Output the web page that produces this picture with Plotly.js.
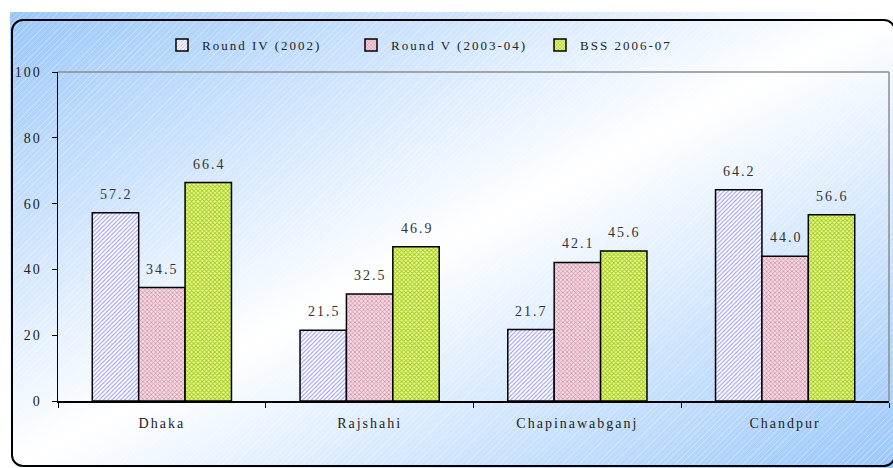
<!DOCTYPE html>
<html>
<head>
<meta charset="utf-8">
<script src="https://cdn.plot.ly/plotly-3.0.1.min.js"></script>
<style>
  html, body { margin: 0; padding: 0; background: #ffffff; width: 893px; height: 468px; overflow: hidden; }
  #bg { position: absolute; left: 10px; top: 12px; width: 883px; height: 456px;
        background: linear-gradient(to bottom right, #98c6fb 0%, #ffffff 50%, #98c6fb 100%); }
  #stripes { position: absolute; left: 10px; top: 12px; width: 883px; height: 456px;
        background: repeating-linear-gradient(-45deg, rgba(255,255,255,0.28) 0px, rgba(255,255,255,0.28) 1px, rgba(255,255,255,0) 1px, rgba(255,255,255,0) 4px); }
  #frame { position: absolute; left: 11px; top: 19px; width: 881px; height: 444px;
        border: 2px solid #000; border-radius: 12px; }
  #chart { position: absolute; left: 0; top: 0; width: 893px; height: 468px; }
  #chart text { letter-spacing: 2px; }
</style>
</head>
<body>
<div id="bg"></div>
<div id="stripes"></div>
<div id="frame"></div>
<div id="chart"></div>
<script>
const categories = ["Dhaka", "Rajshahi", "Chapinawabganj", "Chandpur"];
const seriesNames = ["Round IV (2002)", "Round V (2003-04)", "BSS 2006-07"];
const roundIV = [57.2, 21.5, 21.7, 64.2];
const roundV = [34.5, 32.5, 42.1, 44.0];
const bss = [66.4, 46.9, 45.6, 56.6];
const yTicks = [0, 20, 40, 60, 80, 100];

const serif = "Liberation Serif, Times New Roman, serif";
const styles = [
  { fg: "#9a9af2", bg: "#ffffff", shape: "/", size: 3, solidity: 0.35 },
  { fg: "#c98ba2", bg: "#f6d8e2", shape: "x", size: 3, solidity: 0.4 },
  { fg: "#9acc10", bg: "#f2f8a0", shape: "x", size: 3, solidity: 0.5 }
];
const values = [roundIV, roundV, bss];

const W = 893, H = 468;
const margin = { l: 58, r: 4, t: 72, b: 67 };
const bargap = 0.33;
const catWidth = (W - margin.l - margin.r) / categories.length;
const barWidth = catWidth * (1 - bargap) / values.length;

const traces = values.map((vals, i) => ({
  type: "bar",
  name: seriesNames[i],
  x: categories,
  y: vals,
  cliponaxis: false,
  marker: {
    color: styles[i].bg,
    line: { color: "#000000", width: 1.5 },
    pattern: { shape: styles[i].shape, fgcolor: styles[i].fg, bgcolor: styles[i].bg,
               size: styles[i].size, solidity: styles[i].solidity, fillmode: "replace" }
  },
  hoverinfo: "none"
}));

const annotations = [];
values.forEach((vals, i) => {
  vals.forEach((v, j) => {
    annotations.push({
      x: categories[j], y: v, xref: "x", yref: "y",
      text: v.toFixed(1), showarrow: false,
      xshift: (i - (values.length - 1) / 2) * barWidth + 1,
      yanchor: "bottom", yshift: 9,
      font: { family: serif, size: 14, color: "#333333" }
    });
  });
});

const layout = {
  width: W, height: H,
  paper_bgcolor: "rgba(0,0,0,0)",
  plot_bgcolor: "rgba(0,0,0,0)",
  margin: margin,
  barmode: "group",
  bargap: bargap,
  bargroupgap: 0,
  showlegend: true,
  legend: {
    orientation: "h", x: 162 / W, xanchor: "left", xref: "container",
    y: 1 - 45 / H, yanchor: "middle", yref: "container",
    font: { family: serif, size: 13, color: "#222222" },
    bgcolor: "rgba(0,0,0,0)", itemwidth: 30, traceorder: "normal",
    entrywidth: 144, entrywidthmode: "pixels"
  },
  annotations: annotations,
  xaxis: {
    type: "category",
    showline: true, linecolor: "#000000", linewidth: 1.5,
    ticks: "outside", tickson: "boundaries", ticklen: 5, tickcolor: "#000000",
    tickfont: { family: serif, size: 14, color: "#222222" },
    ticklabelstandoff: 9,
    showgrid: false, zeroline: false, fixedrange: true
  },
  yaxis: {
    range: [0, 100], tickvals: yTicks, ticktext: yTicks.map(String),
    showline: true, linecolor: "#000000", linewidth: 1.5,
    ticks: "outside", ticklen: 5, tickcolor: "#000000",
    tickfont: { family: serif, size: 14, color: "#222222" },
    ticklabelstandoff: 7,
    showgrid: false, zeroline: false, fixedrange: true
  },
  shapes: [
    { type: "line", xref: "paper", yref: "paper", x0: 0, x1: 1, y0: 1, y1: 1, line: { color: "#8c8c8c", width: 1.5 } },
    { type: "line", xref: "paper", yref: "paper", x0: 1, x1: 1, y0: 0, y1: 1, line: { color: "#8c8c8c", width: 1.5 } }
  ]
};

Plotly.newPlot("chart", traces, layout, { staticPlot: true, displayModeBar: false });
</script>
</body>
</html>
